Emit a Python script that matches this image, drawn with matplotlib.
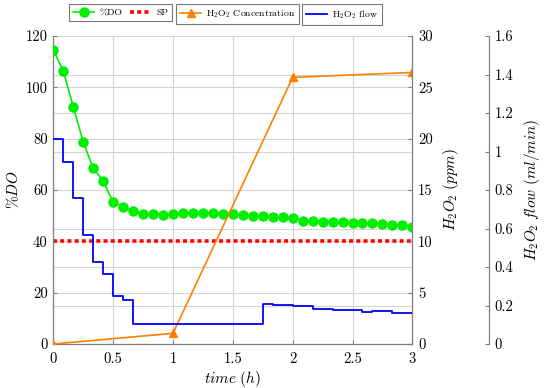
import numpy as np
import matplotlib
matplotlib.use("Agg")
import matplotlib.pyplot as plt
from matplotlib.ticker import MultipleLocator, FuncFormatter

plt.rcParams['font.family'] = 'serif'
plt.rcParams['font.serif'] = ['cmr10']
plt.rcParams['mathtext.fontset'] = 'cm'
plt.rcParams['axes.formatter.use_mathtext'] = True

# dissolved oxygen, sampled every 5 min
t_do = np.linspace(0, 3, 37)
do_pct = [114.5, 106.3, 92.4, 78.6, 68.5, 63.5, 55.2, 53.5, 51.9, 50.8,
          50.8, 50.4, 50.5, 51.0, 51.2, 51.2, 51.1, 50.8, 50.5, 50.2,
          50.0, 49.7, 49.4, 49.3, 49.0, 48.1, 48.0, 47.6, 47.6, 47.5,
          47.1, 47.1, 47.0, 46.7, 46.5, 46.3, 45.6]

# set point
t_sp = [0, 3]
sp = [40, 40]

# H2O2 concentration (ppm)
t_conc = [0, 1, 2, 3]
conc = [0, 1.04, 25.97, 26.45]

# H2O2 flow (ml/min), piecewise constant
flow = ([1.063, 0.947, 0.759, 0.566, 0.428, 0.362, 0.251, 0.227]
        + [0.102] * 13
        + [0.206, 0.204, 0.201, 0.196, 0.196, 0.183, 0.183, 0.177, 0.177,
           0.177, 0.166, 0.173, 0.171, 0.163, 0.159, 0.159])

GREEN = '#00ee00'
ORANGE = '#ff8000'
BLUE = '#0000ff'
RED = '#ff0000'
SPINE = '#7f7f7f'

fmt = FuncFormatter(lambda v, p: '%g' % round(v, 3))

fig = plt.figure(figsize=(5.5, 3.88), dpi=100)
ax = fig.add_axes([0.097, 0.1134, 0.6527, 0.7938])
ax2 = ax.twinx()
ax3 = ax.twinx()

l_do, = ax.plot(t_do, do_pct, color=GREEN, lw=1.2, marker='o', ms=6.5, zorder=3)
l_sp, = ax.plot(t_sp, sp, color=RED, lw=2.6, dashes=(1.1, 0.9), zorder=2)
l_c, = ax2.plot(t_conc, conc, color=ORANGE, lw=1.2, marker='^', ms=6)
l_f, = ax3.plot(t_do, flow, color=BLUE, lw=1.3, drawstyle='steps-post')

ax.set_xlim(0, 3)
ax.set_ylim(0, 120)
ax2.set_ylim(0, 30)
ax3.set_ylim(0, 1.6)

ax.xaxis.set_major_locator(MultipleLocator(0.5))
ax.yaxis.set_major_locator(MultipleLocator(20))
ax.yaxis.set_minor_locator(MultipleLocator(15))
ax2.yaxis.set_major_locator(MultipleLocator(5))
ax3.yaxis.set_major_locator(MultipleLocator(0.2))
for axis in (ax.xaxis, ax.yaxis, ax2.yaxis, ax3.yaxis):
    axis.set_major_formatter(fmt)

ax.grid(True, which='major', color='#d4d4d4', lw=0.8, zorder=0)
ax.grid(True, which='minor', axis='y', color='#d4d4d4', lw=0.8, zorder=0)
ax.set_axisbelow(True)

ax.tick_params(which='minor', length=0)
ax.tick_params(axis='y', direction='in', length=3, color=SPINE, labelsize=10.5, pad=4)
ax.tick_params(axis='x', direction='in', length=3, color=SPINE, labelsize=10.5, pad=6)
ax2.tick_params(direction='in', length=3, color=SPINE, labelsize=10.5, pad=4)
ax3.tick_params(direction='in', length=3, color=SPINE, labelsize=10.5, pad=4)

ax3.spines['right'].set_position(('axes', 1.2137))
for a in (ax, ax2, ax3):
    a.spines['top'].set_visible(False)
    for s in a.spines.values():
        s.set_color(SPINE)
        s.set_linewidth(0.9)
ax2.spines['left'].set_visible(False)
ax3.spines['left'].set_visible(False)
ax.spines['right'].set_visible(False)
ax2.spines['bottom'].set_visible(False)
ax3.spines['bottom'].set_visible(False)

ax.set_xlabel(r'$time\ (h)$', fontsize=11, labelpad=2)
ax.set_ylabel(r'$\%DO$', fontsize=11, labelpad=3)
ax2.set_ylabel(r'$H_2O_2\ (ppm)$', fontsize=11, labelpad=6)
ax3.set_ylabel(r'$H_2O_2\ flow\ (ml/min)$', fontsize=11, labelpad=6)

leg_kw = dict(loc='upper left', fontsize=7, frameon=True, fancybox=False,
              edgecolor='#555555', handlelength=2.2, borderpad=0.4,
              handletextpad=0.5, columnspacing=0.8, borderaxespad=0)
top = 1 - 4.5 / 388
lg1 = fig.legend([l_do, l_sp], ['%DO', 'SP'], ncol=2,
                 bbox_to_anchor=(69 / 550, top), **leg_kw)
lg2 = fig.legend([l_c], [r'H$_2$O$_2$ Concentration'],
                 bbox_to_anchor=(176 / 550, top), **leg_kw)
lg3 = fig.legend([l_f], [r'H$_2$O$_2$ flow'],
                 bbox_to_anchor=(302 / 550, top), **leg_kw)
for lg in (lg1, lg2, lg3):
    lg.get_frame().set_linewidth(0.8)

fig.savefig('out.png', dpi=100)
